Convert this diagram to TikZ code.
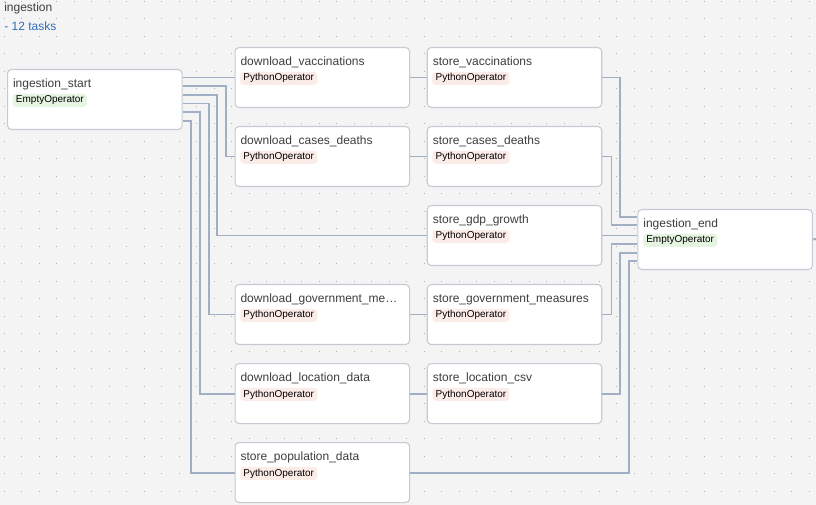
\documentclass[tikz,border=0pt]{standalone}
\usepackage{fontspec}
\setmainfont{Liberation Sans}
\usetikzlibrary{calc}

\definecolor{canvas}{HTML}{F4F4F4}
\definecolor{griddot}{HTML}{B2B2B2}
\definecolor{boxline}{HTML}{C6CBD3}
\definecolor{titletext}{HTML}{3E3E3E}
\definecolor{linkblue}{HTML}{2F6DB8}
\definecolor{edgecol}{HTML}{A0AFC4}
\definecolor{pyfill}{HTML}{FCECE8}
\definecolor{emptyfill}{HTML}{E6F5E2}

\tikzset{
  taskbox/.style={draw=boxline, line width=0.8pt, fill=white, rounded corners=3pt,
    anchor=north west, minimum width=130.9pt, minimum height=45pt, inner sep=0pt},
  tasktitle/.style={anchor=base west, inner sep=0pt, font=\fontsize{9pt}{10pt}\selectfont,
    text=titletext},
  opbadge/.style={anchor=north west, rounded corners=2.5pt, inner xsep=2.4pt, inner ysep=0pt,
    minimum height=9.75pt, text height=5.5pt, text depth=1.4pt,
    font=\fontsize{7.5pt}{8pt}\selectfont, text=black},
  pyop/.style={opbadge, fill=pyfill},
  emptyop/.style={opbadge, fill=emptyfill},
  edge/.style={draw=edgecol, line width=1.45pt},
  header/.style={anchor=base west, inner sep=0pt, font=\fontsize{9pt}{10pt}\selectfont}
}

% one task: name, x, y (top left, px), title, badge style, badge text
\newcommand\dagtask[6]{%
  \node[taskbox] (#1) at (#2,#3) {};
  \node[tasktitle] (#1-title) at ($(#1.north west)+(5.8,18.6)$) {#4};
  \node[#5] (#1-op) at ($(#1.north west)+(5.5,24.5)$) {#6};
}

\begin{document}
\begin{tikzpicture}[x=0.75pt, y=-0.75pt]
  % canvas and dot grid
  \fill[canvas] (0,0) rectangle (816,505);
  \useasboundingbox (0,0) rectangle (816,505);
  \foreach \i in {0,...,46} {
    \foreach \j in {0,...,28} {
      \fill[griddot] ({3.8+17.5*\i},{0.8+17.5*\j}) rectangle ++(1.1,1.1);
    }
  }

  % group header
  \node[header, text=titletext] (grp) at (4,11.8) {ingestion};
  \node[header, text=linkblue] (grpcount) at (4,30.8) {- 12 tasks};

  % tasks
  \dagtask{is}{7}{69}{ingestion\_start}{emptyop}{EmptyOperator}
  \dagtask{dv}{234.5}{47}{download\_vaccinations}{pyop}{PythonOperator}
  \dagtask{dcd}{234.5}{126}{download\_cases\_deaths}{pyop}{PythonOperator}
  \dagtask{dgm}{234.5}{284}{download\_government\_me…}{pyop}{PythonOperator}
  \dagtask{dld}{234.5}{363}{download\_location\_data}{pyop}{PythonOperator}
  \dagtask{spd}{234.5}{442}{store\_population\_data}{pyop}{PythonOperator}
  \dagtask{sv}{426.7}{47}{store\_vaccinations}{pyop}{PythonOperator}
  \dagtask{scd}{426.7}{126}{store\_cases\_deaths}{pyop}{PythonOperator}
  \dagtask{gdp}{426.7}{205}{store\_gdp\_growth}{pyop}{PythonOperator}
  \dagtask{sgm}{426.7}{284}{store\_government\_measures}{pyop}{PythonOperator}
  \dagtask{slc}{426.7}{363}{store\_location\_csv}{pyop}{PythonOperator}
  \dagtask{ie}{637.3}{209}{ingestion\_end}{emptyop}{EmptyOperator}

  \coordinate (out) at (816,239);

  % fan-out from ingestion_start
  \draw[edge] (is.east |- dv.west) -- (dv.west);
  \draw[edge] ($(is.north east)+(0,17)$) -- ++(43.5,0) |- (dcd.west);
  \draw[edge] ($(is.north east)+(0,25.8)$) -- ++(34.8,0) |- (gdp.west);
  \draw[edge] ($(is.north east)+(0,34.5)$) -- ++(26.1,0) |- (dgm.west);
  \draw[edge] ($(is.north east)+(0,43.2)$) -- ++(17.4,0) |- (dld.west);
  \draw[edge] ($(is.north east)+(0,51.9)$) -- ++(8.7,0) |- (spd.west);

  % download -> store
  \draw[edge] (dv.east) -- (sv.west);
  \draw[edge] (dcd.east) -- (scd.west);
  \draw[edge] (dgm.east) -- (sgm.west);
  \draw[edge] (dld.east) -- (slc.west);

  % fan-in to ingestion_end
  \draw[edge] (sv.east) -- ++(17.8,0) |- ($(ie.north west)+(0,7.8)$);
  \draw[edge] (scd.east) -- ++(9.2,0) |- ($(ie.north west)+(0,16.3)$);
  \draw[edge] (gdp.east) -- (gdp.east -| ie.west);
  \draw[edge] (sgm.east) -- ++(9.2,0) |- ($(ie.north west)+(0,35.2)$);
  \draw[edge] (slc.east) -- ++(17.8,0) |- ($(ie.north west)+(0,43.6)$);
  \draw[edge] (spd.east) -- ++(218.8,0) |- ($(ie.north west)+(0,51.8)$);

  % onward link to the next group
  \draw[edge] (ie.east) -- (out);
\end{tikzpicture}
\end{document}
